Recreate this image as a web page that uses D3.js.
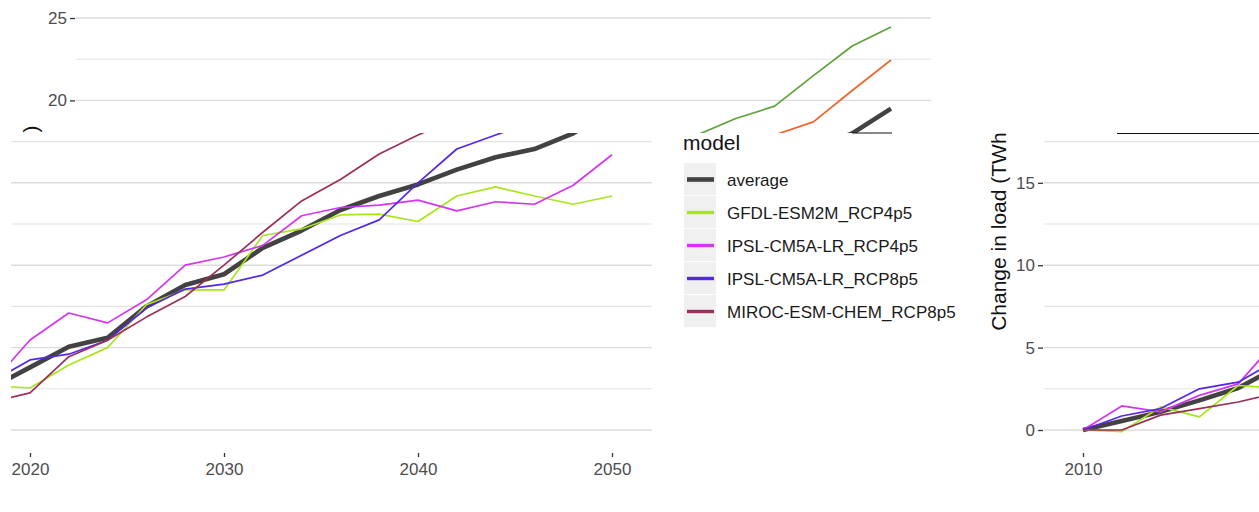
<!DOCTYPE html>
<html>
<head>
<meta charset="utf-8">
<script src="https://cdn.jsdelivr.net/npm/d3@7"></script>
<style>
  html, body { margin: 0; padding: 0; background: #ffffff; }
  svg { display: block; font-family: "Liberation Sans", Arial, sans-serif; }
</style>
</head>
<body>
<svg id="chart" width="1259" height="512"></svg>
<script>
// Projected change in load (TWh) per climate model, every two years
const years = [2010, 2012, 2014, 2016, 2018, 2020, 2022, 2024, 2026, 2028, 2030,
               2032, 2034, 2036, 2038, 2040, 2042, 2044, 2046, 2048, 2050];

const average      = [0, 0.55, 1.1, 1.8, 2.55, 3.8, 5.05, 5.6, 7.5, 8.8, 9.45,
                      11.05, 12.1, 13.35, 14.2, 14.9, 15.8, 16.55, 17.05, 18.0, 19.5];
const gfdlRcp45    = [0, -0.1, 1.4, 0.8, 2.7, 2.55, 3.95, 5.0, 7.6, 8.5, 8.5,
                      11.8, 12.2, 13.05, 13.1, 12.65, 14.2, 14.75, 14.2, 13.7, 14.2];
const ipslRcp45    = [0, 1.46, 1.1, 2.1, 2.8, 5.46, 7.1, 6.5, 7.9, 10.0, 10.5,
                      11.2, 13.0, 13.5, 13.65, 13.95, 13.3, 13.85, 13.7, 14.85, 16.7];
const ipslRcp85    = [0, 0.85, 1.3, 2.5, 2.9, 4.25, 4.6, 5.45, 7.4, 8.55, 8.85,
                      9.4, 10.6, 11.8, 12.75, 15.0, 17.05, 17.9, 18.7, 20.6, 22.45];
const mirocRcp85   = [0, 0, 0.9, 1.3, 1.7, 2.25, 4.45, 5.45, 6.85, 8.1, 10.0,
                      12.0, 13.9, 15.2, 16.75, 17.9, 18.9, 19.65, 21.5, 23.3, 24.45];

const modelNames = ["average", "GFDL-ESM2M_RCP4p5", "IPSL-CM5A-LR_RCP4p5",
                    "IPSL-CM5A-LR_RCP8p5", "MIROC-ESM-CHEM_RCP8p5"];
const modelValues = [average, gfdlRcp45, ipslRcp45, ipslRcp85, mirocRcp85];

// two colour schemes of the same figure
const mainColors  = ["#424242", "#a8e61c", "#d535f2", "#5626e6", "#9a2f5c"];
const altColors   = ["#424242", "#8fbf3a", "#c060e0", "#f0642c", "#5ea23c"];

const yMajorTicks = [0, 5, 10, 15, 20, 25];
const yMinorTicks = [2.5, 7.5, 12.5, 17.5, 22.5];
const xTickYears  = [2010, 2020, 2030, 2040, 2050];
const yTitle = "Change in load (TWh)";
const legendTitle = "model";

const svg = d3.select("#chart");
const defs = svg.append("defs");

// panel geometry of one figure
const panelLeft = 76, panelRight = 931, panelBottom = 453;
const x = d3.scaleLinear().domain([2010, 2050]).range([115, 891]);
const y = d3.scaleLinear().domain([0, 25]).range([430, 18]);

const series = modelNames.map((name, i) => ({
  name, index: i,
  points: years.map((yr, j) => ({ year: yr, value: modelValues[i][j] }))
}));

function drawFigure(g, colors) {
  // horizontal grid
  g.append("g").selectAll("line").data(yMinorTicks).join("line")
    .attr("x1", panelLeft).attr("x2", panelRight)
    .attr("y1", d => y(d)).attr("y2", d => y(d))
    .attr("stroke", "#e4e4e4").attr("stroke-width", 1.1);
  g.append("g").selectAll("line").data(yMajorTicks).join("line")
    .attr("x1", panelLeft).attr("x2", panelRight)
    .attr("y1", d => y(d)).attr("y2", d => y(d))
    .attr("stroke", "#dcdcdc").attr("stroke-width", 1.4);

  // y axis
  const ya = g.append("g").attr("transform", `translate(${panelLeft - 1},0)`)
    .call(d3.axisLeft(y).tickValues(yMajorTicks).tickSize(5).tickPadding(3));
  ya.select(".domain").remove();
  ya.selectAll(".tick line").attr("stroke", "#333333").attr("stroke-width", 1.3);
  ya.selectAll(".tick text").attr("fill", "#4d4d4d").attr("font-size", 17)
    .attr("font-family", "Liberation Sans, Arial, sans-serif");

  // x axis
  const xa = g.append("g").attr("transform", `translate(0,${panelBottom})`)
    .call(d3.axisBottom(x).tickValues(xTickYears).tickFormat(d3.format("d"))
      .tickSize(4).tickPadding(6));
  xa.select(".domain").remove();
  xa.selectAll(".tick line").attr("stroke", "#333333").attr("stroke-width", 1.3);
  xa.selectAll(".tick text").attr("fill", "#4d4d4d").attr("font-size", 17)
    .attr("font-family", "Liberation Sans, Arial, sans-serif");

  // axis title
  g.append("text")
    .attr("transform", `translate(38,${(y(25.7) + y(-1.2)) / 2}) rotate(-90)`)
    .attr("text-anchor", "middle")
    .attr("font-size", 21).attr("fill", "#111111")
    .text(yTitle);

  // series lines
  const line = d3.line().x(d => x(d.year)).y(d => y(d.value));
  g.append("g").selectAll("path").data(series).join("path")
    .attr("d", d => line(d.points))
    .attr("fill", "none")
    .attr("stroke", d => colors[d.index])
    .attr("stroke-width", d => d.index === 0 ? 4.6 : 1.7)
    .attr("stroke-linejoin", "round")
    .attr("stroke-linecap", "butt");

  // legend
  const lg = g.append("g").attr("transform", "translate(962,0)");
  lg.append("text").attr("x", 0).attr("y", 150)
    .attr("font-size", 21).attr("fill", "#111111").text(legendTitle);
  const rowH = 33, rowTop = 163;
  const rows = lg.selectAll("g.key").data(series).join("g").attr("class", "key")
    .attr("transform", d => `translate(0,${rowTop + d.index * rowH})`);
  rows.append("rect").attr("x", 1).attr("y", 0).attr("width", 32).attr("height", rowH - 1)
    .attr("fill", "#f0f0f0");
  rows.append("line").attr("x1", 4).attr("x2", 31)
    .attr("y1", rowH / 2).attr("y2", rowH / 2)
    .attr("stroke", d => colors[d.index])
    .attr("stroke-width", d => d.index === 0 ? 4.6 : 3.4);
  rows.append("text").attr("x", 44).attr("y", rowH / 2).attr("dy", "0.36em")
    .attr("font-size", 17).attr("fill", "#1a1a1a").text(d => d.name);
}

// three views of the figure, each cut to its own window
const views = [
  { id: "viewTop",   clip: [0, 0, 1259, 133],    dx: 0,    colors: altColors },
  { id: "viewMain",  clip: [11, 133, 951, 379],  dx: -279, colors: mainColors },
  { id: "viewRight", clip: [962, 133, 297, 379], dx: 968,  colors: mainColors }
];

views.forEach(v => {
  defs.append("clipPath").attr("id", v.id)
    .append("rect").attr("x", v.clip[0]).attr("y", v.clip[1])
    .attr("width", v.clip[2]).attr("height", v.clip[3]);
  const outer = svg.append("g").attr("clip-path", `url(#${v.id})`);
  const inner = outer.append("g").attr("transform", `translate(${v.dx},0)`);
  drawFigure(inner, v.colors);

  // drop labels that fall entirely outside this window
  const [cx, cy, cw, ch] = v.clip;
  inner.selectAll("text").each(function () {
    const b = this.getBoundingClientRect();
    const hit = b.right > cx && b.left < cx + cw && b.bottom > cy && b.top < cy + ch;
    if (!hit) d3.select(this).remove();
  });
});

// thin dark edges where the views meet
svg.append("line").attr("x1", 1117).attr("x2", 1259).attr("y1", 133.5).attr("y2", 133.5)
  .attr("stroke", "#111111").attr("stroke-width", 1);
svg.append("line").attr("x1", 852).attr("x2", 892).attr("y1", 133).attr("y2", 133)
  .attr("stroke", "#111111").attr("stroke-width", 1);
</script>
</body>
</html>
